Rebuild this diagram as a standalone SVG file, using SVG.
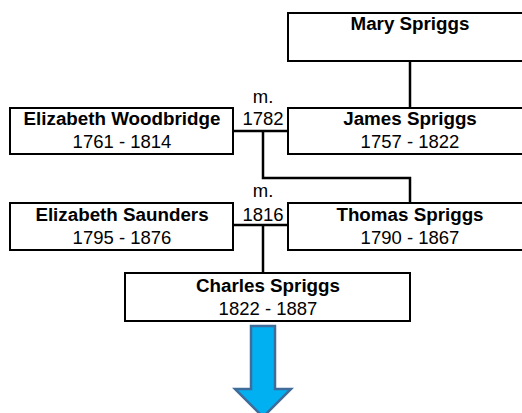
<svg xmlns="http://www.w3.org/2000/svg" width="522" height="413" viewBox="0 0 522 413">
<style>
.box{fill:#fff;stroke:#000;stroke-width:2}
.n{font-family:"Liberation Sans",Arial,sans-serif;font-size:18.8px;font-weight:bold;text-anchor:middle;fill:#000}
.d{font-family:"Liberation Sans",Arial,sans-serif;font-size:18.5px;text-anchor:middle;fill:#000}
.c{fill:none;stroke:#000;stroke-width:2.5}
</style>
<rect width="522" height="413" fill="#fff"/>
<g id="connectors">
<path class="c" d="M410,61 V108"/>
<path class="c" d="M233,131 H288"/>
<path class="c" d="M263,131 V178 H410 V203"/>
<path class="c" d="M233,225 H288"/>
<path class="c" d="M263,225 V273"/>
</g>
<g id="marriage1">
<text class="d" x="263" y="103">m.</text>
<text class="d" x="263" y="125">1782</text>
</g>
<g id="marriage2">
<text class="d" x="263" y="197">m.</text>
<text class="d" x="263" y="221">1816</text>
</g>
<g id="mary">
<rect class="box" x="288" y="13" width="244" height="48"/>
<text class="n" x="410" y="30">Mary Spriggs</text>
</g>
<g id="elizabethWoodbridge">
<rect class="box" x="10" y="108" width="223" height="46"/>
<text class="n" x="122" y="125">Elizabeth Woodbridge</text>
<text class="d" x="122" y="148">1761 - 1814</text>
</g>
<g id="james">
<rect class="box" x="288" y="108" width="244" height="46"/>
<text class="n" x="410" y="125">James Spriggs</text>
<text class="d" x="410" y="148">1757 - 1822</text>
</g>
<g id="elizabethSaunders">
<rect class="box" x="10" y="203" width="223" height="47"/>
<text class="n" x="122" y="221">Elizabeth Saunders</text>
<text class="d" x="122" y="244">1795 - 1876</text>
</g>
<g id="thomas">
<rect class="box" x="288" y="203" width="244" height="47"/>
<text class="n" x="410" y="221">Thomas Spriggs</text>
<text class="d" x="410" y="244">1790 - 1867</text>
</g>
<g id="charles">
<rect class="box" x="125" y="273" width="285" height="48"/>
<text class="n" x="268" y="292">Charles Spriggs</text>
<text class="d" x="268" y="315">1822 - 1887</text>
</g>
<g id="arrow">
<path d="M251,326 H275 V389 H291 L263,417 L235,389 H251 Z" fill="#00B0F0" stroke="#3F6C9A" stroke-width="2.5" stroke-linejoin="miter"/>
</g>
</svg>
